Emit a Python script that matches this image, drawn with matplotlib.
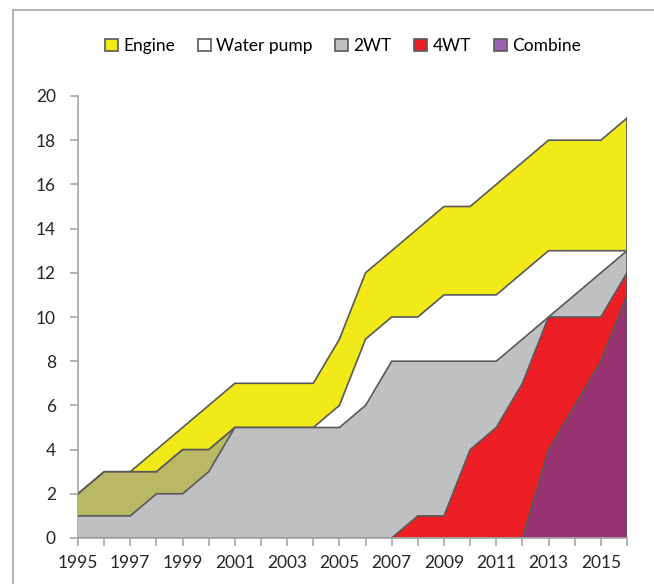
import numpy as np
import matplotlib
matplotlib.use('Agg')
import matplotlib.pyplot as plt
from matplotlib.patches import Patch, Rectangle

plt.rcParams.update({
    'font.family': ['Lato', 'DejaVu Sans'],
    'font.size': 12,
})

# Data (cumulative totals)
years = np.arange(1995, 2017)
engine = [2, 3, 3, 4, 5, 6, 7, 7, 7, 7, 9, 12, 13, 14, 15, 15, 16, 17, 18, 18, 18, 19]
water_pump = [2, 3, 3, 3, 4, 4, 5, 5, 5, 5, 6, 9, 10, 10, 11, 11, 11, 12, 13, 13, 13, 13]
wt2 = [1, 1, 1, 2, 2, 3, 5, 5, 5, 5, 5, 6, 8, 8, 8, 8, 8, 9, 10, 11, 12, 13]
wt4 = [0, 0, 0, 0, 0, 0, 0, 0, 0, 0, 0, 0, 0, 1, 1, 4, 5, 7, 10, 10, 10, 12]
combine = [0, 0, 0, 0, 0, 0, 0, 0, 0, 0, 0, 0, 0, 0, 0, 0, 0, 0, 4, 6, 8, 11]
labels = ['Engine', 'Water pump', '2WT', '4WT', 'Combine']

fill_colors = ['#f2e918', '#ffffff', '#bfc0c2', '#ed1f24', '#963370']
legend_colors = ['#f2e918', '#ffffff', '#bfc0c2', '#ed1f24', '#9b62b4']
edge = '#595959'

fig = plt.figure(figsize=(6.54, 5.84), dpi=100)
ax = fig.add_axes([78 / 654, 46 / 584, 549 / 654, 442 / 584])

# outer chart frame
fig.patches.append(Rectangle((13 / 654, -0.1), 1.0, 1 - 10 / 584 + 0.1,
                             transform=fig.transFigure, fill=False,
                             edgecolor='#a6a6a6', linewidth=1.2))

series = [engine, water_pump, wt2, wt4, combine]
for i, vals in enumerate(series):
    z = 2 + i
    ax.fill_between(years, 0, vals, facecolor=fill_colors[i], linewidth=0, zorder=z)
    if i == 1:
        # early years where the white band shows olive
        n = 7
        ax.fill_between(years[:n], 0, water_pump[:n], facecolor='#b9b865',
                        linewidth=0, zorder=z + 0.1)
        ax.plot(years[:n], water_pump[:n], color='#6e6e50', lw=1.0, zorder=z + 0.2)
    v = np.array(vals)
    ax.plot(years, v, color=edge, lw=1.2, zorder=z + 0.3)
    ax.plot([years[-1], years[-1]], [0, v[-1]], color=edge, lw=1.2, zorder=z + 0.3)

ax.set_xlim(1995, 2016)
ax.set_ylim(0, 20)
ax.set_yticks(np.arange(0, 21, 2))
ax.set_xticks(years)
ax.set_xticklabels([str(y) if (y - 1995) % 2 == 0 else '' for y in years])

for s in ['top', 'right']:
    ax.spines[s].set_visible(False)
for s in ['left', 'bottom']:
    ax.spines[s].set_color('#a6a6a6')
    ax.spines[s].set_linewidth(1.2)
ax.spines['bottom'].set_zorder(10)
ax.tick_params(axis='both', colors='#a6a6a6', labelcolor='#262626',
               length=6, width=1.2, direction='out', labelsize=12.5)
ax.tick_params(axis='y', pad=10)
ax.tick_params(axis='x', pad=6)

handles = [Patch(facecolor=legend_colors[i], edgecolor=edge, linewidth=1.2)
           for i in range(len(labels))]
fig.legend(handles, labels, loc='center', bbox_to_anchor=(343 / 654, 1 - 46 / 584),
           ncol=5, frameon=False, handlelength=0.75, handleheight=0.75,
           handletextpad=0.3, columnspacing=1.3, fontsize=12.5)

fig.savefig('out.png', dpi=100)
